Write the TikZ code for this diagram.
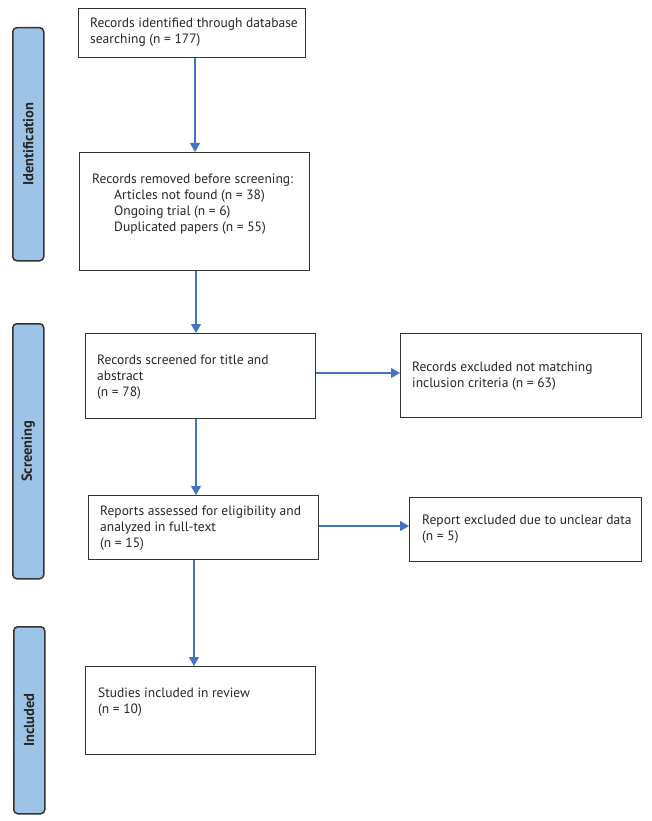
\documentclass[tikz,border=0pt]{standalone}
\usepackage{fontspec}
\setmainfont{PT Sans}
\usetikzlibrary{arrows.meta}
\definecolor{arrblue}{HTML}{4472C4}
\definecolor{sidefill}{HTML}{9DC3E6}
\definecolor{edgegray}{HTML}{333333}
\begin{document}
\begin{tikzpicture}[x=1pt,y=-1pt,
  box/.style={draw=edgegray, line width=1.3pt, fill=white, inner sep=0pt, rectangle, anchor=north west},
  side/.style={draw=edgegray, line width=1.5pt, fill=sidefill, rounded corners=4pt, inner sep=0pt, anchor=north west},
  sidetext/.style={rotate=90, font=\fontsize{14.5}{16}\selectfont\bfseries, text=black!85, inner sep=0pt},
  txt/.style={anchor=north west, inner sep=0pt, align=left, text=black!85, font=\fontsize{13.5}{16}\selectfont},
  arr/.style={draw=arrblue, line width=1.2pt, -{Triangle[length=9pt,width=10pt]}}]
\useasboundingbox (0,0) rectangle (652,821);

% sidebars
\node[side, minimum width=31pt, minimum height=233pt] (s1) at (12,27) {};
\node[sidetext] (s1t) at (s1.center) {Identification};
\node[side, minimum width=31pt, minimum height=255pt] (s2) at (12,323) {};
\node[sidetext] (s2t) at (s2.center) {Screening};
\node[side, minimum width=31pt, minimum height=187pt] (s3) at (13,626) {};
\node[sidetext] (s3t) at (s3.center) {Included};

% boxes
\node[box, minimum width=227pt, minimum height=49pt] (b1) at (78,8) {};
\node[box, minimum width=230pt, minimum height=118pt] (b2) at (79,152) {};
\node[box, minimum width=230pt, minimum height=85pt] (b3) at (85,333) {};
\node[box, minimum width=241pt, minimum height=84pt] (r1) at (400,333) {};
\node[box, minimum width=230pt, minimum height=64pt] (b4) at (88,495) {};
\node[box, minimum width=232pt, minimum height=64pt] (r2) at (409,497) {};
\node[box, minimum width=230pt, minimum height=88pt] (b5) at (85,666) {};

% texts
\node[txt] (b1t) at (90,18) {Records identified through database\\searching (n = 177)};
\node[txt] (b2t) at (92,174) {Records removed before screening:\\\hspace*{22pt}Articles not found (n = 38)\\\hspace*{22pt}Ongoing trial (n = 6)\\\hspace*{22pt}Duplicated papers (n = 55)};
\node[txt] (b3t) at (97,355) {Records screened for title and\\abstract\\(n = 78)};
\node[txt] (r1t) at (412,362) {Records excluded not matching\\inclusion criteria (n = 63)};
\node[txt] (b4t) at (100,506) {Reports assessed for eligibility and\\analyzed in full-text\\(n = 15)};
\node[txt] (r2t) at (422,515) {Report excluded due to unclear data\\(n = 5)};
\node[txt] (b5t) at (98,688) {Studies included in review\\(n = 10)};

% arrows
\draw[arr] (b1.south -| 195,0) -- (b2.north -| 195,0);
\draw[arr] (b2.south -| 196,0) -- (b3.north -| 196,0);
\draw[arr] (b3.south -| 196,0) -- (b4.north -| 196,0);
\draw[arr] (b4.south -| 194,0) -- (b5.north -| 194,0);
\draw[arr] (b3.east |- 0,373) -- (r1.west |- 0,373);
\draw[arr] (b4.east |- 0,526) -- (r2.west |- 0,526);
\end{tikzpicture}
\end{document}
